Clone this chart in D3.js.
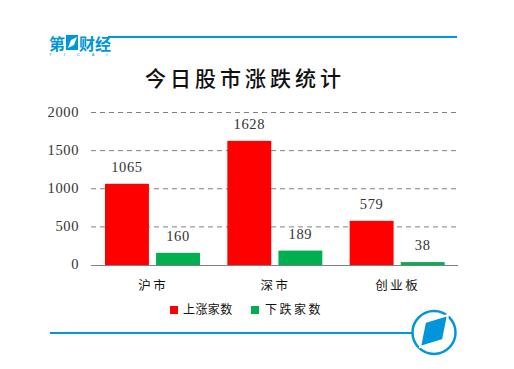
<!DOCTYPE html>
<html>
<head>
<meta charset="utf-8">
<script src="https://cdn.jsdelivr.net/npm/d3@7"></script>
<style>
  html, body { margin: 0; background: #fff; }
  svg { display: block; }
  .num { font-family: "Liberation Serif", serif; font-size: 14.5px; fill: #333; letter-spacing: 0.6px; }
  .cjk { font-family: "Noto Sans CJK SC", sans-serif; fill: #111; }
</style>
</head>
<body>
<svg id="chart" width="514" height="369"></svg>
<script>
const categories = ['沪市', '深市', '创业板'];
const seriesNames = ['上涨家数', '下跌家数'];
const seriesColors = ['#ff0000', '#00b050'];
const upValues = [1065, 1628, 579];
const downValues = [160, 189, 38];
const yTicks = [0, 500, 1000, 1500, 2000];
const blue = '#0096db';

const svg = d3.select('#chart');

// scales
const x = d3.scaleBand().domain(categories).range([91, 458]);
const series = d3.scaleBand().domain(seriesNames).range([14, 109]).paddingInner(0.14);
const y = d3.scaleLinear().domain([0, 2000]).range([265, 112.5]);

// title
svg.append('text').attr('class', 'cjk')
  .attr('x', 245).attr('y', 86)
  .attr('text-anchor', 'middle')
  .attr('font-size', 21).attr('font-weight', 500)
  .attr('letter-spacing', 4)
  .text('今日股市涨跌统计');

// grid lines
svg.append('g').selectAll('line')
  .data(yTicks.filter(d => d > 0))
  .join('line')
  .attr('x1', 91).attr('x2', 458)
  .attr('y1', d => y(d)).attr('y2', d => y(d))
  .attr('stroke', '#808080')
  .attr('stroke-dasharray', '5 4');

// y labels
const yAxis = d3.axisLeft(y).tickValues(yTicks).tickSize(0).tickPadding(12).tickFormat(d3.format('d'));
const yG = svg.append('g').attr('transform', 'translate(91,-1)').call(yAxis);
yG.select('.domain').remove();
yG.selectAll('text').attr('class', 'num').attr('fill', null).attr('font-family', null).attr('font-size', null);

// bars
const data = [upValues, downValues];
seriesNames.forEach((name, s) => {
  const g = svg.append('g');
  g.selectAll('rect')
    .data(categories)
    .join('rect')
    .attr('x', c => x(c) + series(name))
    .attr('y', (c, i) => y(data[s][i]))
    .attr('width', series.bandwidth())
    .attr('height', (c, i) => y(0) - y(data[s][i]))
    .attr('fill', seriesColors[s]);
  g.selectAll('text')
    .data(categories)
    .join('text')
    .attr('class', 'num')
    .attr('x', c => x(c) + series(name) + series.bandwidth() / 2)
    .attr('y', (c, i) => y(data[s][i]) - 12)
    .attr('text-anchor', 'middle')
    .text((c, i) => data[s][i]);
});

// x axis line
svg.append('line')
  .attr('x1', 91).attr('x2', 458)
  .attr('y1', y(0) + 0.5).attr('y2', y(0) + 0.5)
  .attr('stroke', '#808080').attr('stroke-width', 1);

// x labels
svg.append('g').selectAll('text')
  .data(categories)
  .join('text')
  .attr('class', 'cjk')
  .attr('x', c => x(c) + x.bandwidth() / 2 + 1)
  .attr('y', 290)
  .attr('text-anchor', 'middle')
  .attr('font-size', 12.5)
  .attr('letter-spacing', 2.5)
  .text(c => c);

// legend, the second entry sits wider in the original
const legendX = [170, 251];
const legendGap = [13, 14];
const legendSpacing = [0.4, 2.5];
seriesNames.forEach((name, s) => {
  svg.append('rect')
    .attr('x', legendX[s]).attr('y', 306)
    .attr('width', 8).attr('height', 8)
    .attr('fill', seriesColors[s]);
  svg.append('text').attr('class', 'cjk')
    .attr('x', legendX[s] + legendGap[s]).attr('y', 314)
    .attr('font-size', 12)
    .attr('letter-spacing', legendSpacing[s])
    .text(name);
});

// frame lines
svg.append('line').attr('x1', 108).attr('x2', 457).attr('y1', 37).attr('y2', 37)
  .attr('stroke', blue).attr('stroke-width', 2);
svg.append('line').attr('x1', 50).attr('x2', 413).attr('y1', 333).attr('y2', 333)
  .attr('stroke', blue).attr('stroke-width', 2);

// top logo
const logo = svg.append('g');
logo.append('text').attr('x', 49).attr('y', 50)
  .attr('font-family', '"Liberation Sans", "Noto Sans CJK SC", sans-serif').attr('font-weight', 700)
  .attr('font-size', 16).attr('fill', blue).text('第');
logo.append('rect').attr('x', 66).attr('y', 35).attr('width', 12).attr('height', 15).attr('fill', blue);
logo.append('path').attr('d', 'M68 48 L71 40 L77 37 L74 45 Z').attr('fill', '#fff');
logo.append('text').attr('x', 79).attr('y', 50)
  .attr('font-family', '"Liberation Sans", "Noto Sans CJK SC", sans-serif').attr('font-weight', 700)
  .attr('font-size', 16).attr('fill', blue).text('财经');
logo.append('text').attr('x', 49).attr('y', 56)
  .attr('font-family', '"Liberation Sans", sans-serif').attr('font-size', 4)
  .attr('letter-spacing', 12).attr('fill', blue).text('YICAI');

// bottom badge
const badge = svg.append('g');
badge.append('circle').attr('cx', 434).attr('cy', 332.5).attr('r', 21.5)
  .attr('fill', '#fff').attr('stroke', blue).attr('stroke-width', 2.5);
badge.append('path').attr('d', 'M425 322 L448 315 L443 340 L420 347 Z')
  .attr('fill', blue).attr('stroke', '#fff').attr('stroke-width', 2);
</script>
</body>
</html>
